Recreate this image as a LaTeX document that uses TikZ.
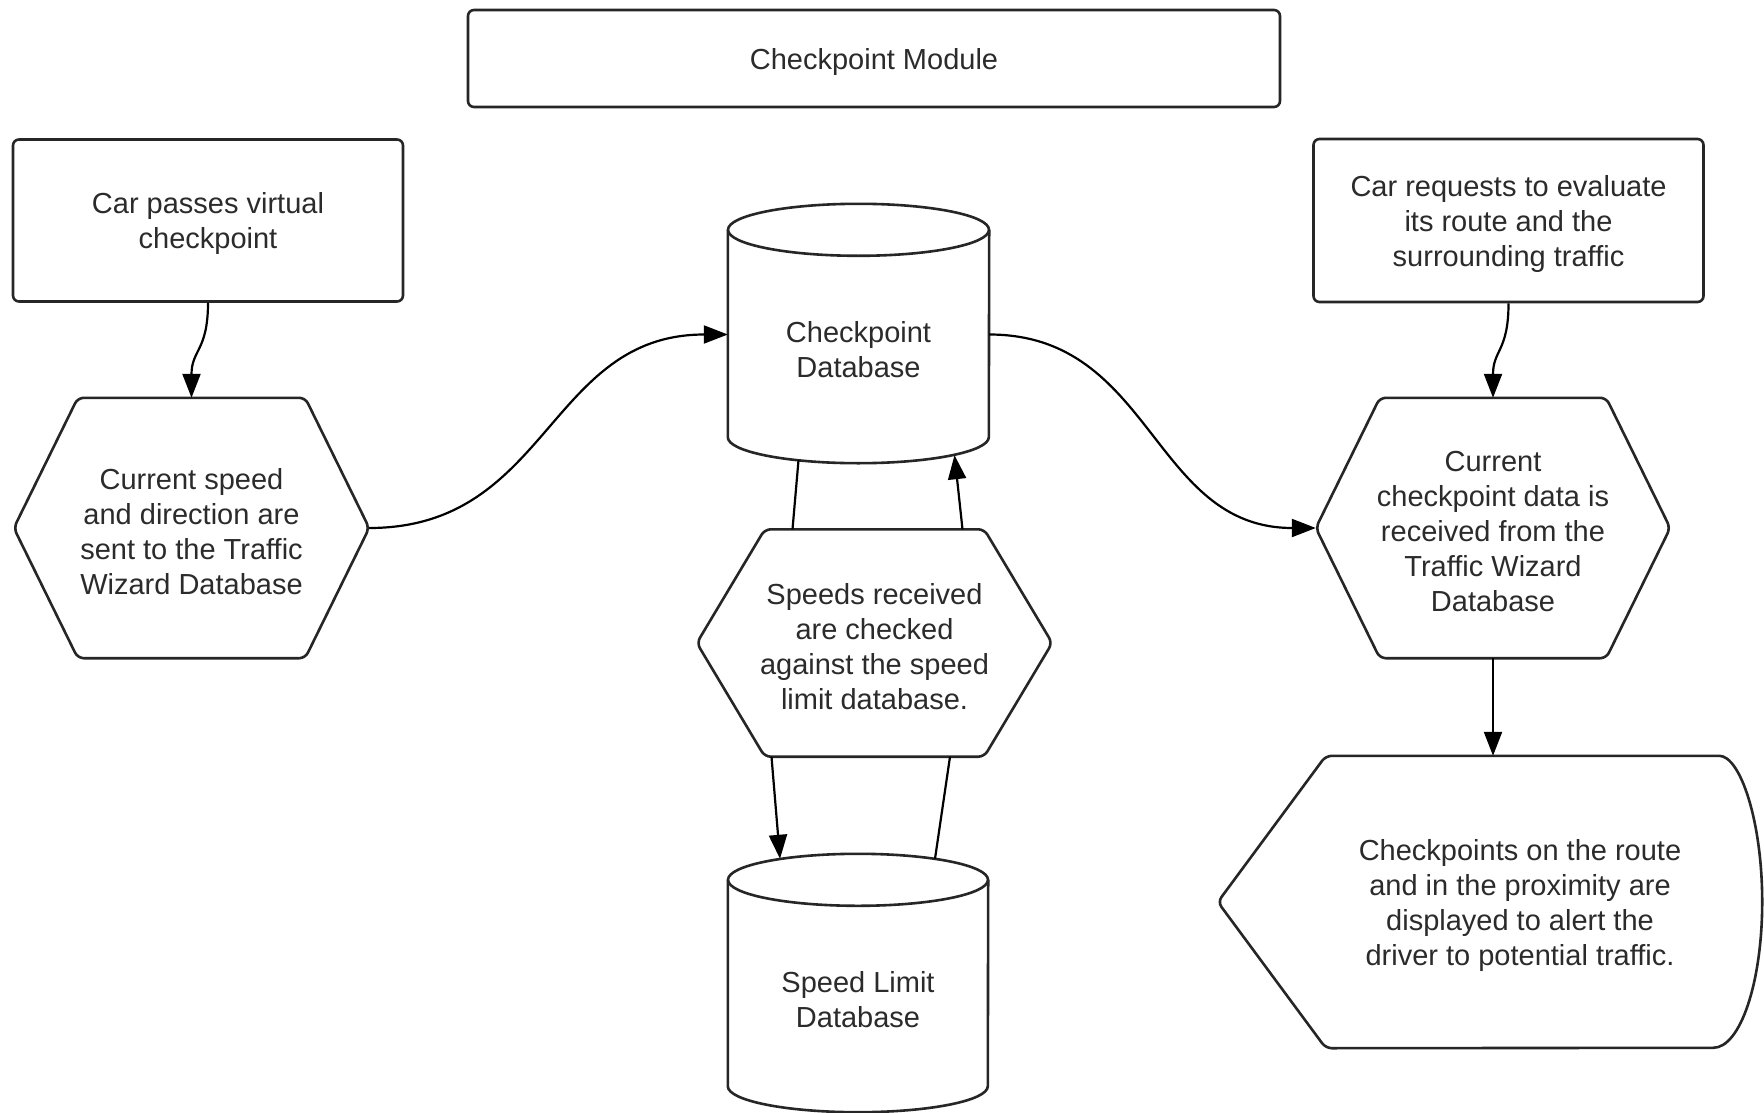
\documentclass[tikz,border=0pt]{standalone}
\usepackage{fontspec}
\setmainfont{Liberation Sans}
\usetikzlibrary{arrows.meta,calc}

\definecolor{ink}{HTML}{2B2B2B}
\definecolor{stroke}{HTML}{262626}

% extra head room on the first line, to sit the text a little lower in its shape
\newcommand\hdroom{\rule{0pt}{28pt}}

\begin{document}
\begin{tikzpicture}[x=1pt,y=-1pt,
  every node/.style={font=\fontsize{29}{35}\selectfont, text=ink, align=center, inner sep=0pt},
  area/.style 2 args={rectangle, minimum width=#1, minimum height=#2},
  outline/.style={draw=stroke, line width=2.6pt, line join=round},
  boxed/.style={outline, rounded corners=6pt},
  link/.style={draw=black, line width=2.2pt},
  arr/.style={link, -{Triangle[length=24pt,width=18pt]}}
]
\useasboundingbox (0,0) rectangle (1764,1113);
\fill[white] (0,0) rectangle (1764,1113);

% ---- plain boxes
\node[area={812pt}{97pt}, boxed]  (title) at (874,58.5)   {\hdroom Checkpoint Module};
\node[area={390pt}{162pt}, boxed] (pass)  at (208,220.5)  {\hdroom Car passes virtual\\checkpoint};
\node[area={390pt}{163pt}, boxed] (req)   at (1508.5,220.5) {\hdroom Car requests to evaluate\\its route and the\\surrounding traffic};

% ---- hexagon steps (outline drawn below)
\node[area={355pt}{260pt}] (send)  at (191.5,528) {\hdroom Current speed\\and direction are\\sent to the Traffic\\Wizard Database};
\node[area={354pt}{260pt}] (recv)  at (1493,528)  {\hdroom Current\\checkpoint data is\\received from the\\Traffic Wizard\\Database};
\node[area={355pt}{227pt}] (check) at (874.5,643) {\hdroom Speeds received\\are checked\\against the speed\\limit database.};

% ---- databases (area spans top-ellipse centre to lowest bottom point)
\node[area={261pt}{233pt}] (cpdb) at (858.5,346.5) {\hdroom Checkpoint\\Database};
\node[area={260pt}{232pt}] (sldb) at (858,996)     {\hdroom Speed Limit\\Database};

% ---- display (area holds the text, the pointed end lies to its left)
\node[area={486pt}{292pt}] (show) at (1520,902) {\hdroom Checkpoints on the route\\and in the proximity are\\displayed to alert the\\driver to potential traffic.};

% hexagon outlines
\foreach \n/\i in {send/64, recv/64, check/68}{
  \draw[outline, rounded corners=6pt]
    (\n.west) -- ($(\n.north west)+(\i,0)$) -- ($(\n.north east)+(-\i,0)$)
    -- (\n.east) -- ($(\n.south east)+(-\i,0)$) -- ($(\n.south west)+(\i,0)$) -- cycle;
}

% cylinder outlines
\foreach \n/\r in {cpdb/130.5, sldb/130}{
  \draw[outline] (\n.north west) -- ($(\n.south west)+(0,-26)$)
    arc[start angle=180, end angle=360, x radius=\r pt, y radius=26pt]
    -- (\n.north east);
  \draw[outline] (\n.north) ellipse[x radius=\r pt, y radius=26pt];
}

% display outline
\draw[outline, rounded corners=6pt]
  ($(show.west)+(-59,0)$) -- ($(show.north west)+(49,0)$) -- ($(show.north east)+(-50,0)$)
  [sharp corners] arc[start angle=90, end angle=-90, x radius=49pt, y radius=146pt]
  [rounded corners=6pt] -- ($(show.south west)+(49,0)$) -- cycle;

% connectors
\draw[arr] (pass.south) .. controls +(0,48) and +(0,-48) .. (send.north);
\draw[arr] (req.south) .. controls +(0,48) and +(0,-48) .. (recv.north);
\draw[arr] (send.east) .. controls +(180,0) and +(-180,0) .. ($(cpdb.west)+(0,-12)$);
\draw[arr] ($(cpdb.east)+(0,-12)$) .. controls +(164,0) and +(-164,0) .. (recv.west);
\draw[arr] (recv.south) -- (recv.south |- show.north);

\draw[link] ($(cpdb.south)+(-60,-3)$) -- ($(check.north)+(-82,0)$);
\draw[arr]  ($(check.north)+(88,0)$) -- ($(cpdb.south)+(96,-8)$);
\draw[arr]  ($(check.south)+(-103,0)$) -- ($(sldb.north)+(-78,-21)$);
\draw[link] ($(sldb.north)+(77,-21)$) -- ($(check.south)+(75.5,0)$);
\end{tikzpicture}
\end{document}
